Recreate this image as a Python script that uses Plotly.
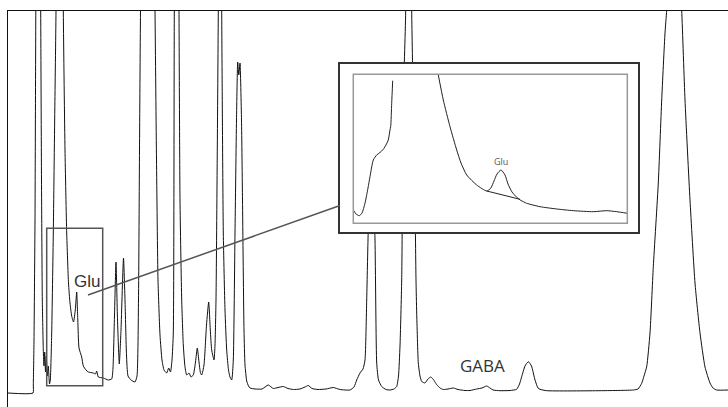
import plotly.graph_objects as go

# ---- main chromatogram (retention time in min, detector signal in a.u.) ----
time_min = [0.00, 2.50, 2.53, 2.60, 2.70, 2.78, 3.00, 3.27, 3.35, 3.43, 3.53, 3.60, 3.67, 3.75, 3.83, 3.93,
            4.03, 4.15, 4.23, 4.37, 4.53, 4.68, 4.80, 5.17, 5.53, 5.70, 5.87, 6.05, 6.20, 6.37, 6.55, 6.73,
            6.87, 6.98, 7.10, 7.37, 7.53, 7.80, 8.03, 8.53, 8.75, 8.87, 9.03, 9.53, 10.03, 10.37, 10.50,
            10.65, 10.80, 10.95, 11.13, 11.30, 11.55, 11.70, 11.85, 12.00, 12.30, 12.70, 12.90, 13.05, 13.15,
            13.25, 13.98, 14.70, 14.85, 15.00, 15.20, 15.40, 15.60, 15.87, 16.07, 16.25, 16.40, 16.53, 16.63,
            16.87, 17.10, 17.20, 17.37, 17.53, 17.70, 17.87, 18.10, 18.30, 18.53, 18.75, 18.93, 19.10, 19.25,
            19.37, 19.60, 19.85, 20.07, 20.23, 20.37, 20.60, 20.70, 20.80, 21.03, 21.20, 21.37, 21.53, 21.70,
            21.87, 22.05, 22.20, 22.37, 22.53, 22.70, 22.85, 22.97, 23.08, 23.20, 23.35, 23.45, 23.60, 23.70,
            23.87, 24.05, 24.20, 24.70, 25.40, 26.03, 26.53, 27.00, 27.53, 28.00, 28.53, 29.20, 29.70, 30.03,
            30.40, 31.00, 31.80, 32.53, 33.20, 34.20, 34.60, 34.87, 35.20, 35.50, 35.70, 35.87, 36.00, 36.35,
            36.70, 36.87, 37.05, 37.37, 37.80, 38.20, 38.60, 38.87, 39.05, 39.20, 39.37, 39.53, 39.77, 40.07,
            40.37, 40.70, 40.80, 40.87, 41.03, 41.20, 41.37, 41.70, 42.00, 42.27, 42.50, 42.70, 42.90, 43.20,
            43.53, 44.00, 44.53, 45.00, 45.70, 46.20, 46.87, 47.40, 47.87, 48.20, 48.50, 49.20, 50.20, 50.87,
            51.15, 51.37, 51.70, 52.03, 52.35, 52.70, 53.00, 53.20, 53.87, 59.20, 62.53, 63.00, 63.37, 63.60,
            63.87, 64.20, 64.53, 65.03, 65.37, 65.70, 65.87, 66.60, 67.37, 67.70, 68.20, 68.70, 69.20, 69.70,
            70.20, 70.50, 70.87, 72.00]
signal = [14, 14, 22, 67, 187, 396, 857, 396, 227, 107, 57, 41, 55, 35, 51, 31,
          41, 23, 27, 74, 174, 297, 396, 957, 396, 257, 174, 124, 104, 91, 85, 97,
          115, 87, 59, 50, 41, 37, 35, 34, 33, 36, 30, 29, 27, 28, 39,
          92, 145, 87, 43, 77, 149, 107, 52, 31, 27, 25, 31, 107, 257,
          396, 1007, 396, 247, 127, 72, 47, 37, 34, 39, 35, 47, 74, 396,
          807, 396, 207, 107, 62, 40, 32, 34, 30, 32, 45, 59, 45, 34,
          32, 42, 82, 105, 77, 57, 47, 62, 107, 396, 707, 396, 174, 97,
          57, 37, 30, 27, 47, 174, 287, 345, 332, 344, 287, 207, 77, 42,
          26, 21, 19, 18, 18, 22, 18.5, 19.5, 20.5, 18.5, 17.5, 18, 20, 21.5,
          18.5, 17.5, 18, 19.5, 17.5, 17, 20, 27, 34, 38, 47, 107, 167, 287,
          167, 44, 27, 20.5, 17.5, 17, 18, 20.5, 31, 61, 127, 307, 396, 907,
          396, 207, 127, 94, 44, 31, 25.5, 24, 28, 30, 28, 25, 22, 19,
          17.5, 18, 19, 17.5, 16.5, 16.5, 18, 19, 21, 19, 17, 16.3, 16.5, 17.7,
          23, 30.3, 41, 45.3, 41, 27, 19, 17.7, 16.3, 16.3, 17, 18, 23.7, 31,
          40.3, 74, 140.3, 224, 307, 374, 397, 557, 397, 307, 207, 124, 74, 40,
          24, 19, 17, 17]

# Glu region box on main trace
glu_box_t = [3.87, 9.47]
glu_box_s = [21.3, 178.7]

# ---- inset: enlarged Glu region ----
inset_t_left = [3.866, 3.92, 3.986, 4.04, 4.10, 4.16, 4.20, 4.266, 4.334, 4.40, 4.466, 4.53, 4.566,
                4.60, 4.614, 4.634, 4.654]
inset_s_left = [22.3, 18.3, 16.6, 19.3, 29, 44.3, 55.6, 72.3, 77.3, 79.8, 83, 88.3, 92.3,
                102.3, 105.6, 129, 151.6]
inset_t_right = [5.566, 5.666, 5.80, 5.934, 6.02, 6.134, 6.334, 6.534, 6.614, 6.68, 6.74, 6.82, 6.90,
                 6.96, 7.04, 7.134, 7.22, 7.334, 7.60, 7.934, 8.266, 8.666, 8.934, 9.134, 9.346]
inset_s_right = [157.3, 132.3, 105.6, 82.3, 69.3, 57.3, 47.3, 41.3, 44, 51.3, 58.3, 62.3, 57.3,
                 48.3, 40.3, 35, 31.8, 29, 25.6, 23.3, 21.6, 20.6, 21.6, 20.6, 19]
baseline_t = [6.534, 7.20]
baseline_s = [41.3, 33]
inset_frame_t = [3.866, 9.346]
inset_frame_s = [9, 158]

fig = go.Figure()
fig.add_trace(go.Scatter(x=time_min, y=signal, mode="lines",
                         line=dict(color="#111111", width=1, shape="spline", smoothing=0.5),
                         hoverinfo="skip", showlegend=False))
fig.add_trace(go.Scatter(x=inset_t_left, y=inset_s_left, mode="lines", xaxis="x2", yaxis="y2",
                         line=dict(color="#222222", width=1, shape="spline", smoothing=0.6),
                         hoverinfo="skip", showlegend=False))
fig.add_trace(go.Scatter(x=inset_t_right, y=inset_s_right, mode="lines", xaxis="x2", yaxis="y2",
                         line=dict(color="#222222", width=1, shape="spline", smoothing=0.6),
                         hoverinfo="skip", showlegend=False))
fig.add_trace(go.Scatter(x=baseline_t, y=baseline_s, mode="lines", xaxis="x2", yaxis="y2",
                         line=dict(color="#222222", width=1),
                         hoverinfo="skip", showlegend=False))

fig.add_shape(type="rect", xref="x", yref="y", x0=glu_box_t[0], x1=glu_box_t[1],
              y0=glu_box_s[0], y1=glu_box_s[1], line=dict(color="#555555", width=1.5), layer="above")
fig.add_shape(type="line", xref="x", yref="y", x0=8.0, y0=112, x1=33.2, y1=201.5,
              line=dict(color="#555555", width=1.5), layer="above")
fig.add_shape(type="rect", xref="x2", yref="y2", x0=inset_frame_t[0], x1=inset_frame_t[1],
              y0=inset_frame_s[0], y1=inset_frame_s[1], line=dict(color="#999999", width=1.5), layer="above")

fig.add_annotation(x=7.87, y=126, xref="x", yref="y", text="Glu", showarrow=False,
                   font=dict(family="Liberation Sans, Arial", size=17, color="#333333"))
fig.add_annotation(x=47.45, y=42, xref="x", yref="y", text="GABA", showarrow=False,
                   font=dict(family="Open Sans", size=17, color="#333333"))
fig.add_annotation(x=6.82, y=71, xref="x2", yref="y2", text="Glu", showarrow=False,
                   font=dict(family="Open Sans", size=9, color="#555555"))

noaxis = dict(showgrid=False, zeroline=False, showticklabels=False, ticks="")
fig.update_layout(
    width=728, height=407,
    margin=dict(l=8, r=0, t=11, b=0),
    paper_bgcolor="white", plot_bgcolor="white",
    xaxis=dict(range=[0, 72], domain=[0, 1], side="top", showline=True, linecolor="#111111",
               linewidth=1, **noaxis),
    yaxis=dict(range=[0, 396], domain=[0, 1], showline=True, linecolor="#111111", linewidth=1, **noaxis),
    xaxis2=dict(range=[3.6, 9.554], domain=[0.4611, 0.8746], anchor="y2", showline=True, mirror=True,
                linecolor="#333333", linewidth=2, **noaxis),
    yaxis2=dict(range=[0, 168.3], domain=[0.4412, 0.8662], anchor="x2", showline=True, mirror=True,
                linecolor="#333333", linewidth=2, **noaxis),
)

fig.write_html("out.html", config={"displayModeBar": False},
               post_script="document.body.style.margin='0';document.body.style.overflow='hidden';")
